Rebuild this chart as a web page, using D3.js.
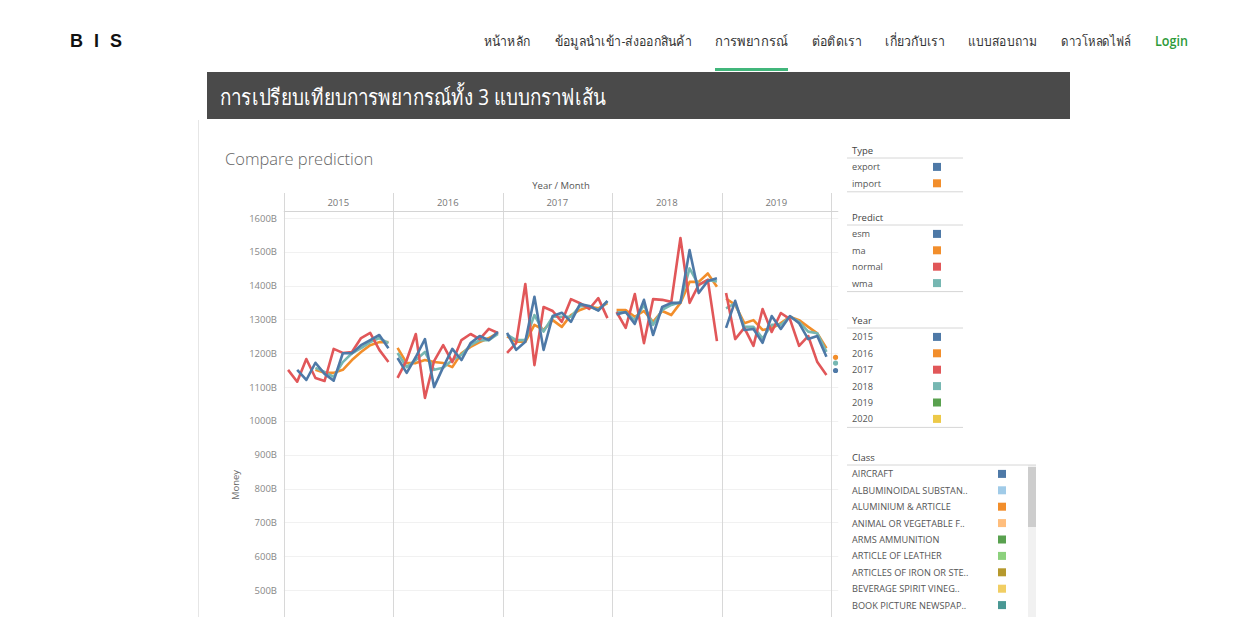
<!DOCTYPE html>
<html>
<head>
  <meta charset="utf-8">
  <title>Compare prediction</title>
  <script src="https://cdn.jsdelivr.net/npm/d3@7/dist/d3.min.js"></script>
  <style>
    body { margin: 0; background: #fff; }
    svg text { font-family: "Open Sans", "Noto Sans", sans-serif; }
  </style>
</head>
<body>
  <div id="dataviz_area"></div>
</body>
<script>
  // chart data, one value per month from Jan 2015 to Jan 2020 (billions)
  const years = [2015, 2016, 2017, 2018, 2019, 2020];
  const months = d3.range(12);
  const yTicks = [500, 600, 700, 800, 900, 1000, 1100, 1200, 1300, 1400, 1500, 1600];

  const esm = [
    null, 1151, 1121, 1172, 1139, 1119, 1200, 1200, 1224, 1239, 1254, 1215,
    1186, 1142, 1189, 1242, 1100, 1159, 1213, 1180, 1230, 1251, 1239, 1263,
    1260, 1210, 1234, 1367, 1210, 1310, 1320, 1293, 1346, 1340, 1326, 1355,
    1315, 1322, 1287, 1358, 1254, 1337, 1349, 1349, 1505, 1378, 1414, 1422,
    1275, 1355, 1269, 1272, 1231, 1310, 1272, 1310, 1289, 1242, 1251, 1190,
    1149
  ];
  const ma = [
    null, null, null, 1151, 1142, 1142, 1151, 1180, 1204, 1224, 1233, 1233,
    1216, 1171, 1171, 1180, 1174, 1171, 1159, 1200, 1219, 1233, 1245, 1260,
    1250, 1234, 1234, 1284, 1269, 1298, 1278, 1313, 1328, 1338, 1333, 1348,
    1328, 1328, 1308, 1325, 1293, 1325, 1313, 1349, 1411, 1411, 1436, 1397,
    1362, 1343, 1289, 1298, 1269, 1274, 1289, 1308, 1298, 1278, 1259, 1215,
    1188
  ];
  const normal = [
    1151, 1116, 1183, 1127, 1118, 1213, 1201, 1204, 1245, 1260, 1210, 1174,
    1127, 1180, 1257, 1068, 1177, 1224, 1174, 1239, 1257, 1242, 1272, 1260,
    1201, 1230, 1405, 1165, 1337, 1325, 1293, 1360, 1348, 1331, 1363, 1304,
    1322, 1275, 1375, 1230, 1360, 1358, 1352, 1541, 1349, 1402, 1417, 1236,
    1378, 1242, 1275, 1222, 1331, 1263, 1319, 1301, 1222, 1251, 1174, 1136,
    null
  ];
  const wma = [
    null, null, null, 1157, 1145, 1130, 1174, 1200, 1215, 1233, 1245, 1230,
    1201, 1159, 1180, 1204, 1151, 1157, 1180, 1195, 1224, 1239, 1239, 1257,
    1255, 1239, 1239, 1313, 1264, 1308, 1308, 1308, 1340, 1338, 1328, 1353,
    1321, 1321, 1298, 1343, 1284, 1328, 1343, 1351, 1451, 1402, 1417, 1412,
    1333, 1348, 1278, 1278, 1244, 1284, 1284, 1308, 1293, 1264, 1259, 1204,
    1171
  ];

  // legends
  const typeLabels = ["export", "import"];
  const predictLabels = ["esm", "ma", "normal", "wma"];
  const yearLabels = ["2015", "2016", "2017", "2018", "2019", "2020"];
  const classLabels = ["AIRCRAFT", "ALBUMINOIDAL SUBSTAN..", "ALUMINIUM & ARTICLE",
    "ANIMAL OR VEGETABLE F..", "ARMS AMMUNITION", "ARTICLE OF LEATHER",
    "ARTICLES OF IRON OR STE..", "BEVERAGE SPIRIT VINEG..", "BOOK PICTURE NEWSPAP.."];

  const navItems = ["หน้าหลัก", "ข้อมูลนำเข้า-ส่งออกสินค้า", "การพยากรณ์", "ต่อติดเรา",
    "เกี่ยวกับเรา", "แบบสอบถาม", "ดาวโหลดไฟล์", "Login"];

  const tab10 = ["#4e79a7", "#f28e2b", "#e15759", "#76b7b2", "#59a14f", "#edc948"];
  const tab20 = ["#4e79a7", "#a0cbe8", "#f28e2b", "#ffbe7d", "#59a14f", "#8cd17d",
    "#b6992d", "#f1ce63", "#499894"];

  const W = 1257, H = 617;
  const svg = d3.select("#dataviz_area")
    .append("svg")
      .attr("width", W)
      .attr("height", H);

  // ---- top navigation
  svg.append("text")
    .attr("x", 70).attr("y", 47)
    .attr("font-size", 18).attr("font-weight", "bold")
    .attr("letter-spacing", 3)
    .style("font-family", "Arial, 'Liberation Sans', sans-serif")
    .attr("fill", "#111")
    .text("B I S");

  // the site font is narrower than what we have, so squeeze to the same widths
  const navX = [484, 555, 715, 812, 885, 968, 1061, 1155];
  const navW = [46, 137, 73, 50, 60, 69, 70, 33];
  svg.selectAll("text.nav")
    .data(navItems)
    .enter()
    .append("text")
      .attr("class", "nav")
      .attr("x", (d, i) => navX[i])
      .attr("y", 46)
      .attr("font-size", 13.5)
      .attr("textLength", (d, i) => navW[i])
      .attr("lengthAdjust", "spacingAndGlyphs")
      .attr("fill", (d) => d == "Login" ? "#2e9b3a" : "#333")
      .attr("font-weight", (d) => d == "Login" ? 600 : "normal")
      .text((d) => d);

  // green tab under the active item
  svg.append("rect")
    .attr("x", 715).attr("y", 68).attr("width", 73).attr("height", 3)
    .attr("fill", "#41b67b");

  // ---- title bar and card
  svg.append("line")
    .attr("x1", 198.5).attr("x2", 198.5).attr("y1", 120).attr("y2", H)
    .attr("stroke", "#e6e6e6");
  svg.append("rect")
    .attr("x", 207).attr("y", 72).attr("width", 863).attr("height", 47)
    .attr("fill", "#4a4a4a");
  svg.append("text")
    .attr("x", 220).attr("y", 105)
    .attr("font-size", 22).attr("fill", "#fff")
    .attr("textLength", 386)
    .attr("lengthAdjust", "spacingAndGlyphs")
    .text("การเปรียบเทียบการพยากรณ์ทั้ง 3 แบบกราฟเส้น");

  svg.append("text")
    .attr("x", 225).attr("y", 165)
    .attr("font-size", 16.5).attr("font-weight", 300).attr("fill", "#666")
    .text("Compare prediction");

  // ---- scales
  const plotLeft = 283.5, plotRight = 838.5, plotTop = 211, headTop = 193;
  const paneW = 109.5;
  const x = d3.scaleBand()
    .domain(years)
    .range([plotLeft, plotLeft + paneW * years.length]);
  const xm = d3.scaleBand()
    .domain(months)
    .range([0, paneW]);
  const y = d3.scaleLinear()
    .domain([500, 1600])
    .range([590, 218]);
  const px = (yr, m) => x(yr) + xm(m) + xm.bandwidth() / 2;

  svg.append("clipPath").attr("id", "clip")
    .append("rect")
      .attr("x", plotLeft).attr("y", headTop)
      .attr("width", plotRight - plotLeft).attr("height", H - headTop);

  const chart = svg.append("g").attr("clip-path", "url(#clip)");

  // gridlines
  chart.selectAll("line.grid")
    .data(yTicks)
    .enter()
    .append("line")
      .attr("x1", plotLeft).attr("x2", plotRight)
      .attr("y1", (d) => Math.round(y(d)) + 0.5)
      .attr("y2", (d) => Math.round(y(d)) + 0.5)
      .attr("stroke", "#f1f1f1");

  // year panes
  chart.selectAll("line.pane")
    .data(years)
    .enter()
    .append("line")
      .attr("x1", (d) => Math.round(x(d)) + 0.5)
      .attr("x2", (d) => Math.round(x(d)) + 0.5)
      .attr("y1", headTop).attr("y2", H)
      .attr("stroke", "#d8d8d8");
  chart.append("line")
    .attr("x1", plotLeft).attr("x2", plotRight)
    .attr("y1", plotTop + 0.5).attr("y2", plotTop + 0.5)
    .attr("stroke", "#d4d4d4");
  chart.selectAll("text.year")
    .data(years)
    .enter()
    .append("text")
      .attr("x", (d) => x(d) + paneW / 2)
      .attr("y", 206)
      .attr("text-anchor", "middle")
      .attr("font-size", 9.5).attr("fill", "#777")
      .text((d) => d);

  svg.append("text")
    .attr("x", 561).attr("y", 189)
    .attr("text-anchor", "middle")
    .attr("font-size", 9.5).attr("fill", "#555")
    .text("Year / Month");

  // y axis labels
  svg.selectAll("text.ytick")
    .data(yTicks)
    .enter()
    .append("text")
      .attr("x", 277)
      .attr("y", (d) => y(d) + 3.5)
      .attr("text-anchor", "end")
      .attr("font-size", 9.5).attr("fill", "#888")
      .text((d) => d + "B");

  svg.append("text")
    .attr("transform", "translate(239,485) rotate(-90)")
    .attr("text-anchor", "middle")
    .attr("font-size", 9.5).attr("fill", "#666")
    .text("Money");

  // ---- lines, one segment per year pane
  const series = [
    {name: "ma", values: ma, color: tab10[1]},
    {name: "wma", values: wma, color: tab10[3]},
    {name: "normal", values: normal, color: tab10[2]},
    {name: "esm", values: esm, color: tab10[0]}
  ];
  const line = d3.line()
    .defined((d) => d.v != null)
    .x((d) => px(d.year, d.m))
    .y((d) => y(d.v));

  series.forEach((s) => {
    years.forEach((yr, yi) => {
      const pts = months.map((m) => ({year: yr, m: m, v: s.values[yi * 12 + m]}))
        .filter((d) => d.v !== undefined);
      const defined = pts.filter((d) => d.v != null);
      if (defined.length > 1) {
        chart.append("path")
          .datum(pts)
          .attr("fill", "none")
          .attr("stroke", s.color)
          .attr("stroke-width", 2.6)
          .attr("stroke-linejoin", "round")
          .attr("d", line);
      } else if (defined.length == 1) {
        chart.append("circle")
          .attr("cx", px(yr, defined[0].m))
          .attr("cy", y(defined[0].v))
          .attr("r", 2.6)
          .attr("fill", s.color);
      }
    });
  });

  // ---- legends
  const lg = svg.append("g");
  function legend(title, labels, colors, top, lineEnd, swatchX) {
    const step = 16.4;
    lg.append("text")
      .attr("x", 852).attr("y", top + 3.5)
      .attr("font-size", 9.5).attr("fill", "#444")
      .text(title);
    lg.append("line")
      .attr("x1", 847).attr("x2", lineEnd)
      .attr("y1", top + 7.5).attr("y2", top + 7.5)
      .attr("stroke", "#d6d6d6");
    const rows = lg.selectAll(null)
      .data(labels)
      .enter()
      .append("g")
        .attr("transform", (d, i) => "translate(0," + (top + step * (i + 1)) + ")");
    rows.append("text")
      .attr("x", 852).attr("y", 3.5)
      .attr("font-size", 9.2).attr("fill", "#555")
      .text((d) => d);
    rows.append("rect")
      .attr("x", swatchX).attr("y", -4)
      .attr("width", 8).attr("height", 8)
      .attr("fill", (d, i) => colors[i]);
    if (lineEnd < 1000) {
      lg.append("line")
        .attr("x1", 847).attr("x2", lineEnd)
        .attr("y1", top + step * labels.length + 8.5)
        .attr("y2", top + step * labels.length + 8.5)
        .attr("stroke", "#d6d6d6");
    }
  }
  legend("Type", typeLabels, tab10, 150.5, 963, 933);
  legend("Predict", predictLabels, [tab10[0], tab10[1], tab10[2], tab10[3]], 217.5, 963, 933);
  legend("Year", yearLabels, tab10, 320.5, 963, 933);

  // class list with its scrollbar
  lg.append("rect")
    .attr("x", 1028).attr("y", 465).attr("width", 8).attr("height", H - 465)
    .attr("fill", "#f1f1f1");
  lg.append("rect")
    .attr("x", 1028).attr("y", 467).attr("width", 8).attr("height", 60)
    .attr("fill", "#cdcdcd");
  legend("Class", classLabels, tab20, 457.5, 1036, 998);
</script>
</html>
